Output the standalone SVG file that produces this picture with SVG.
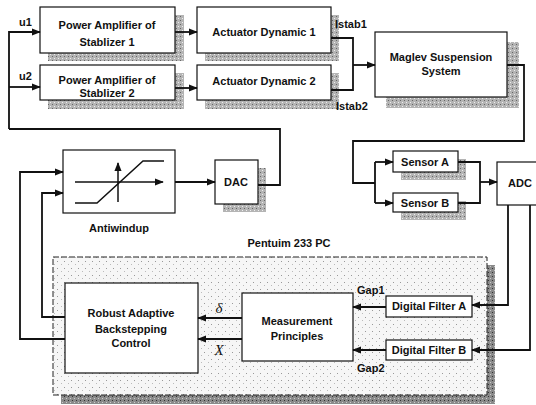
<svg xmlns="http://www.w3.org/2000/svg" width="536" height="405" viewBox="0 0 536 405">
<style>
.box{fill:#fff;stroke:#111;stroke-width:1.2}
.sh{fill:url(#stip)}
.shd{fill:url(#stipd)}
.t{font-family:"Liberation Sans",Arial,sans-serif;font-weight:bold;font-size:11px;fill:#111;text-anchor:middle}
.tl{font-family:"Liberation Sans",Arial,sans-serif;font-weight:bold;font-size:11px;fill:#111}
.sym{font-family:"Liberation Serif","Times New Roman",serif;font-style:italic;font-size:15px;fill:#111;text-anchor:middle}
.c{fill:none;stroke:#111;stroke-width:1.8}
.ca{fill:none;stroke:#111;stroke-width:1.8;marker-end:url(#ah)}
.g{fill:none;stroke:#111;stroke-width:1.5}
</style>
<defs>
<marker id="ah" viewBox="0 0 10 10" refX="9" refY="5" markerWidth="5" markerHeight="5" orient="auto" markerUnits="strokeWidth">
<path d="M0,1 L10,5 L0,9 z" fill="#111"/>
</marker>
<marker id="ahs" viewBox="0 0 10 10" refX="9" refY="5" markerWidth="6" markerHeight="6" orient="auto" markerUnits="strokeWidth">
<path d="M0,1 L10,5 L0,9 z" fill="#111"/>
</marker>
<pattern id="stip" width="4" height="4" patternUnits="userSpaceOnUse">
<rect width="4" height="4" fill="#b4b4b4"/>
<rect x="0" y="0" width="1" height="1" fill="#666"/>
<rect x="2" y="2" width="1" height="1" fill="#eee"/>
</pattern>
<pattern id="stipd" width="4" height="4" patternUnits="userSpaceOnUse">
<rect width="4" height="4" fill="#8a8a8a"/>
<rect x="0" y="0" width="1" height="1" fill="#333"/>
<rect x="2" y="2" width="1" height="1" fill="#ccc"/>
</pattern>
<pattern id="lite" width="7" height="7" patternUnits="userSpaceOnUse">
<rect width="7" height="7" fill="#f6f6f6"/>
<rect x="1" y="2" width="1" height="1" fill="#999"/>
<rect x="5" y="5" width="1" height="1" fill="#bbb"/>
</pattern>
</defs>

<g id="pentium">
<rect class="shd" x="61" y="265" width="434" height="139"/>
<rect x="53" y="257" width="434" height="138" fill="url(#lite)" stroke="#222" stroke-width="1" stroke-dasharray="6 2"/>
<text class="t" x="289" y="247">Pentuim 233 PC</text>
</g>

<g id="pa1">
<rect class="sh" x="48" y="15" width="136" height="46"/>
<rect class="box" x="40" y="7" width="135" height="46"/>
<text class="t" x="107" y="29">Power Amplifier of</text>
<text class="t" x="107" y="46">Stablizer 1</text>
</g>
<g id="pa2">
<rect class="sh" x="48" y="73" width="136" height="36"/>
<rect class="box" x="40" y="65" width="135" height="35"/>
<text class="t" x="107" y="84">Power Amplifier of</text>
<text class="t" x="107" y="97">Stablizer 2</text>
</g>
<g id="ad1">
<rect class="sh" x="205" y="15" width="134" height="46"/>
<rect class="box" x="197" y="7" width="134" height="46"/>
<text class="t" x="264" y="36">Actuator Dynamic 1</text>
</g>
<g id="ad2">
<rect class="sh" x="205" y="73" width="134" height="36"/>
<rect class="box" x="197" y="65" width="134" height="35"/>
<text class="t" x="264" y="85">Actuator Dynamic 2</text>
</g>
<g id="maglev">
<rect class="sh" x="386" y="42" width="133" height="66"/>
<rect class="box" x="375" y="32" width="132" height="65"/>
<text class="t" x="441" y="61">Maglev Suspension</text>
<text class="t" x="441" y="75">System</text>
</g>
<g id="antiwindup">
<rect class="box" x="63" y="150" width="112" height="63"/>
<path class="g" d="M75,182 H163" marker-end="url(#ahs)"/>
<path class="g" d="M118,202 V163" marker-end="url(#ahs)"/>
<path class="g" d="M75,203 H97 L143,161 H164"/>
<text class="t" x="119" y="232">Antiwindup</text>
</g>
<g id="dac">
<rect class="sh" x="223" y="168" width="43" height="44"/>
<rect class="box" x="215" y="160" width="43" height="44"/>
<text class="t" x="236" y="186">DAC</text>
</g>
<g id="sensorA">
<rect class="sh" x="401" y="159" width="65" height="21"/>
<rect class="box" x="393" y="151" width="65" height="21"/>
<text class="t" x="425" y="166">Sensor A</text>
</g>
<g id="sensorB">
<rect class="sh" x="401" y="201" width="65" height="19"/>
<rect class="box" x="393" y="193" width="65" height="19"/>
<text class="t" x="425" y="207">Sensor B</text>
</g>
<g id="adc">
<rect class="box" x="497" y="162" width="50" height="43"/>
<text class="t" x="520" y="187">ADC</text>
</g>
<g id="robust">
<rect class="box" x="65" y="283" width="133" height="90"/>
<text class="t" x="131" y="317">Robust Adaptive</text>
<text class="t" x="131" y="333">Backstepping</text>
<text class="t" x="131" y="347">Control</text>
</g>
<g id="measurement">
<rect class="box" x="242" y="293" width="111" height="68"/>
<text class="t" x="297" y="325">Measurement</text>
<text class="t" x="297" y="340">Principles</text>
</g>
<g id="filterA">
<rect class="box" x="386" y="296" width="86" height="21"/>
<text class="t" x="429" y="310">Digital Filter A</text>
</g>
<g id="filterB">
<rect class="box" x="386" y="340" width="86" height="20"/>
<text class="t" x="429" y="354">Digital Filter B</text>
</g>

<g id="connectors">
<path class="ca" d="M9,129 V32 H40"/>
<path class="ca" d="M9,87 H40"/>
<path class="c" d="M258,185 H280 V129 H9"/>
<path class="ca" d="M175,32 H197"/>
<path class="ca" d="M175,88 H197"/>
<path class="c" d="M331,38 H353 V90 H331"/>
<path class="ca" d="M353,65 H375"/>
<path class="c" d="M507,65 H524 V141 H353 V183 H375"/>
<path class="c" d="M375,162 V203"/>
<path class="ca" d="M375,162 H393"/>
<path class="ca" d="M375,203 H393"/>
<path class="c" d="M458,162 H480 V203 H458"/>
<path class="ca" d="M480,182 H497"/>
<path class="ca" d="M175,182 H215"/>
<path class="ca" d="M508,205 V305 H472"/>
<path class="ca" d="M530,205 V350 H472"/>
<path class="ca" d="M386,307 H353"/>
<path class="ca" d="M386,350 H353"/>
<path class="ca" d="M242,318 H198"/>
<path class="ca" d="M242,339 H198"/>
<path class="ca" d="M65,317 H42 V193 H63"/>
<path class="ca" d="M65,339 H20 V172 H63"/>
</g>

<g id="labels">
<text class="tl" x="19" y="26">u1</text>
<text class="tl" x="19" y="80">u2</text>
<text class="tl" x="335" y="28">Istab1</text>
<text class="tl" x="336" y="110">Istab2</text>
<text class="tl" x="357" y="294">Gap1</text>
<text class="tl" x="357" y="372">Gap2</text>
<text class="sym" x="219" y="313">δ</text>
<text class="sym" x="219" y="355">X</text>
</g>
</svg>
